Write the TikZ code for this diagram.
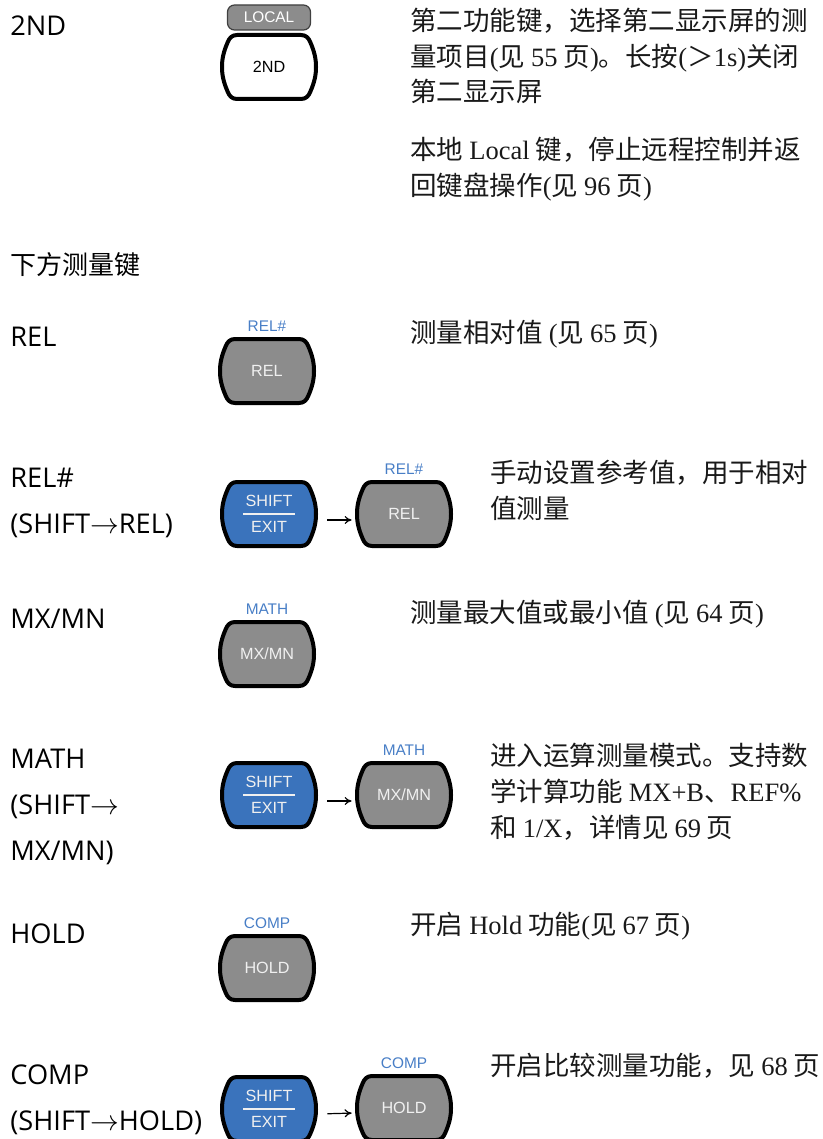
\documentclass[tikz,border=0pt]{standalone}
\usepackage{fontspec}
\usepackage{xcolor}
\usepackage{tikz}
\usetikzlibrary{positioning, arrows.meta}

\newfontfamily\cjk{Noto Sans CJK SC}
\newfontfamily\opensans{Open Sans}
\newfontfamily\arialfont{Liberation Sans}
\newfontfamily\seriffont{Liberation Serif}

\definecolor{keygray}{RGB}{140,140,140}
\definecolor{keyblue}{RGB}{58,115,188}
\definecolor{lblblue}{RGB}{72,126,198}

\newcommand{\lat}[1]{{\seriffont #1}}
% barrel shaped key outline, #1 = centre, #2 = fill
\newcommand{\keyshape}[2]{%
  \draw[line width=2pt, fill=#2, shift={#1}]
    (-16pt,16pt) -- (16pt,16pt)
    .. controls (18.5pt,16pt) and (19.8pt,14.5pt) .. (20.6pt,12.5pt)
    .. controls (22.8pt,7.5pt) and (23.5pt,4pt) .. (23.5pt,0pt)
    .. controls (23.5pt,-4pt) and (22.8pt,-7.5pt) .. (20.6pt,-12.5pt)
    .. controls (19.8pt,-14.5pt) and (18.5pt,-16pt) .. (16pt,-16pt)
    -- (-16pt,-16pt)
    .. controls (-18.5pt,-16pt) and (-19.8pt,-14.5pt) .. (-20.6pt,-12.5pt)
    .. controls (-22.8pt,-7.5pt) and (-23.5pt,-4pt) .. (-23.5pt,0pt)
    .. controls (-23.5pt,4pt) and (-22.8pt,7.5pt) .. (-20.6pt,12.5pt)
    .. controls (-19.8pt,14.5pt) and (-18.5pt,16pt) .. (-16pt,16pt) -- cycle;}

\begin{document}
\begin{tikzpicture}[x=0.5pt, y=-0.5pt,
    lbl/.style={font=\opensans\fontsize{13.6}{23}\selectfont, anchor=north west, inner sep=0pt, align=left},
    body/.style={font=\cjk\fontsize{13.25}{17.8}\selectfont, anchor=north west, inner sep=0pt, align=left, text=black!90},
    keytxt/.style={font=\arialfont\fontsize{8.1}{13}\selectfont, minimum width=49pt, minimum height=34pt, inner sep=0pt, align=center, text=white!94!black},
    toplbl/.style={font=\arialfont\fontsize{7.7}{9}\selectfont, inner sep=0pt, text=lblblue},
    localbox/.style={font=\arialfont\fontsize{7.7}{9}\selectfont, minimum width=41.5pt, minimum height=12.5pt, inner sep=0pt,
      rounded corners=3.5pt, fill=keygray, draw=black!75, line width=0.6pt, text=white},
    keyarrow/.style={-{To[length=3.5pt, width=4pt]}, line width=0.6pt, shorten <=4.5pt, shorten >=1.5pt}]
  \useasboundingbox (0,0) rectangle (823,1139);

  % left column
  \node[lbl] (l2nd) at (10,15) {2ND};
  \node[lbl, font=\cjk\fontsize{13}{23}\selectfont] (lsec) at (10,252) {下方测量键};
  \node[lbl] (lrel) at (10,327) {REL};
  \node[lbl] (lrelh) at (10,468) {REL\#\\(SHIFT$\rightarrow$REL)};
  \node[lbl] (lmx) at (10,609) {MX/MN};
  \node[lbl] (lmath) at (10,749) {MATH\\(SHIFT$\rightarrow$\\MX/MN)};
  \node[lbl] (lhold) at (10,923) {HOLD};
  \node[lbl] (lcomp) at (10,1064) {COMP\\(SHIFT$\rightarrow$HOLD)};

  % keys
  \keyshape{(269,67)}{white}
  \node[keytxt, text=black] (k2nd) at (269,67) {2ND};
  \node[localbox, above=1pt of k2nd] (kloc) {LOCAL};

  \keyshape{(267,371)}{keygray}
  \node[keytxt] (krel) at (267,371) {REL};
  \node[toplbl, above=2.5pt of krel] (trel) {REL\#};

  \keyshape{(269,514)}{keyblue}
  \node[keytxt] (ksh1) at (269,514) {SHIFT\\EXIT};
  \keyshape{(404,514)}{keygray}
  \node[keytxt] (krel2) at (404,514) {REL};
  \node[toplbl, above=2.5pt of krel2] (trel2) {REL\#};

  \keyshape{(267,654)}{keygray}
  \node[keytxt] (kmx) at (267,654) {MX/MN};
  \node[toplbl, above=2.5pt of kmx] (tmx) {MATH};

  \keyshape{(269,795)}{keyblue}
  \node[keytxt] (ksh2) at (269,795) {SHIFT\\EXIT};
  \keyshape{(404,795)}{keygray}
  \node[keytxt] (kmx2) at (404,795) {MX/MN};
  \node[toplbl, above=2.5pt of kmx2] (tmx2) {MATH};

  \keyshape{(267,968)}{keygray}
  \node[keytxt] (khold) at (267,968) {HOLD};
  \node[toplbl, above=2.5pt of khold] (thold) {COMP};

  \keyshape{(269,1109)}{keyblue}
  \node[keytxt] (ksh3) at (269,1109) {SHIFT\\EXIT};
  \keyshape{(404,1108)}{keygray}
  \node[keytxt] (khold2) at (404,1108) {HOLD};
  \node[toplbl, above=2.5pt of khold2] (thold2) {COMP};

  % SHIFT / EXIT bars
  \foreach \k in {ksh1, ksh2, ksh3}
    \draw[white!94!black, line width=0.8pt] ([xshift=-13pt]\k.center) -- ([xshift=13pt]\k.center);

  \draw[keyarrow] ([yshift=-3pt]ksh1.east) -- ([yshift=-3pt]krel2.west);
  \draw[keyarrow] ([yshift=-3pt]ksh2.east) -- ([yshift=-3pt]kmx2.west);
  \draw[keyarrow] ([yshift=-2.5pt]ksh3.east) -- ([yshift=-2.5pt]khold2.west);

  % descriptions
  \node[body] (d2nd) at (410,8) {第二功能键，选择第二显示屏的测\\量项目\lat{(}见 \lat{55} 页\lat{)}。长按\lat{(}＞\lat{1s)}关闭\\第二显示屏};
  \node[body] (dloc) at (410,137) {本地 \lat{Local} 键，停止远程控制并返\\回键盘操作\lat{(}见 \lat{96} 页\lat{)}};
  \node[body] (drel) at (410,320) {测量相对值 \lat{(}见 \lat{65} 页\lat{)}};
  \node[body] (drelh) at (490,460) {手动设置参考值，用于相对\\值测量};
  \node[body] (dmx) at (410,600) {测量最大值或最小值 \lat{(}见 \lat{64} 页\lat{)}};
  \node[body] (dmath) at (490,743) {进入运算测量模式。支持数\\学计算功能 \lat{MX+B}、\lat{REF\%}\\和 \lat{1/X}，详情见 \lat{69} 页};
  \node[body] (dhold) at (410,912) {开启 \lat{Hold} 功能\lat{(}见 \lat{67} 页\lat{)}};
  \node[body] (dcomp) at (490,1053) {开启比较测量功能，见 \lat{68} 页};
\end{tikzpicture}
\end{document}
